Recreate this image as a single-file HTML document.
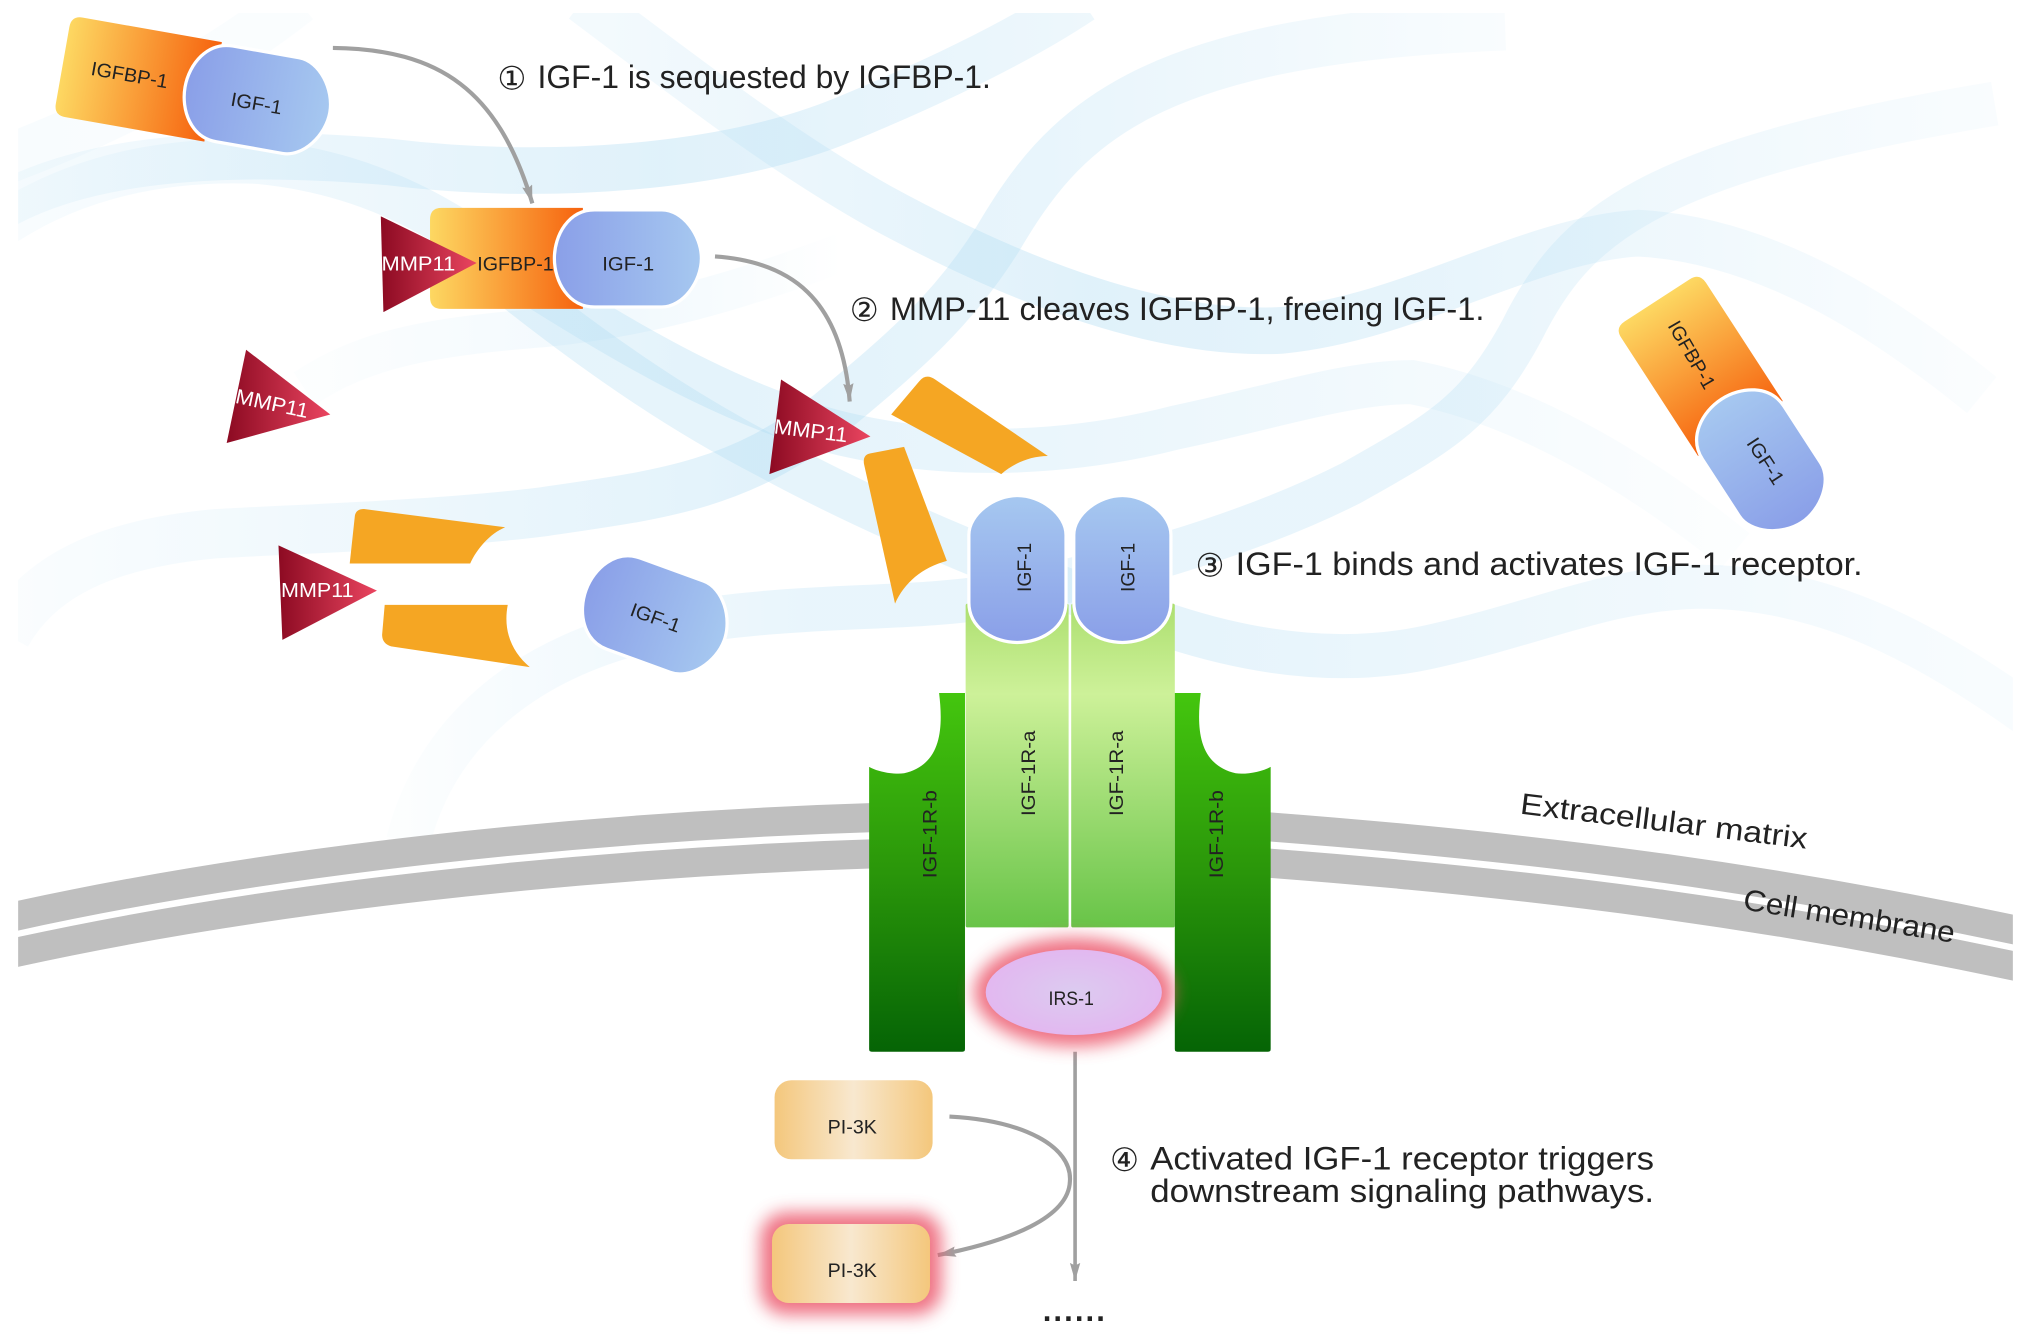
<!DOCTYPE html>
<html><head><meta charset="utf-8"><style>
html,body{margin:0;padding:0;background:#fff}
svg{display:block}
text{font-family:"Liberation Sans","DejaVu Sans",sans-serif;fill:#222}
</style></head><body>
<svg width="2031" height="1344" viewBox="0 0 1568 1037.6" xmlns="http://www.w3.org/2000/svg">
<defs>
<linearGradient id="igf"><stop offset="0" stop-color="#8a9fe8"/><stop offset="1" stop-color="#a6c8f0"/></linearGradient>
<linearGradient id="igfr"><stop offset="0" stop-color="#a6c8f0"/><stop offset="1" stop-color="#8a9fe8"/></linearGradient>
<linearGradient id="bp"><stop offset="0" stop-color="#fdd862"/><stop offset="1" stop-color="#f6620e"/></linearGradient>
<linearGradient id="mmp"><stop offset="0" stop-color="#8c0a22"/><stop offset="1" stop-color="#ea4560"/></linearGradient>
<linearGradient id="ra" x1="0" y1="0" x2="0" y2="1"><stop offset="0" stop-color="#addf70"/><stop offset=".28" stop-color="#cdf199"/><stop offset="1" stop-color="#68c448"/></linearGradient>
<linearGradient id="rb" x1="0" y1="0" x2="0" y2="1"><stop offset="0" stop-color="#44c60e"/><stop offset=".5" stop-color="#2a960a"/><stop offset="1" stop-color="#056405"/></linearGradient>
<radialGradient id="irs"><stop offset="0" stop-color="#dccbf0"/><stop offset="1" stop-color="#e2b8f0"/></radialGradient>
<linearGradient id="pi"><stop offset="0" stop-color="#f4c77c"/><stop offset=".5" stop-color="#f8e8cf"/><stop offset="1" stop-color="#f4c77c"/></linearGradient>
<filter id="gl" x="-30%" y="-40%" width="160%" height="180%"><feGaussianBlur stdDeviation="6.500"/></filter>
<clipPath id="bg"><rect x="14" y="10" width="1540" height="1000"/></clipPath>
<path id="cap" d="M-26,-37.500 H26 C42,-37.500 56.500,-18 56.500,0 C56.500,18 42,37.500 26,37.500 H-26 C-46,37.500 -57,18 -57,0 C-57,-18 -46,-37.500 -26,-37.500 Z" fill="url(#igf)" stroke="#fff" stroke-width="2.500"/>
<path id="capr" d="M-26,-37.500 H26 C42,-37.500 56.500,-18 56.500,0 C56.500,18 42,37.500 26,37.500 H-26 C-46,37.500 -57,18 -57,0 C-57,-18 -46,-37.500 -26,-37.500 Z" fill="url(#igfr)" stroke="#fff" stroke-width="2.500"/>
<path id="bpf" d="M-153,-30 Q-153,-39 -144,-39 H-35 V39 H-144 Q-153,39 -153,30 Z" fill="url(#bp)"/>
<marker id="ah" markerWidth="15" markerHeight="9" refX="14" refY="4" orient="auto" markerUnits="userSpaceOnUse"><path d="M0,0 L14,4 L0,8 L2,4 Z" fill="#a0a0a0"/></marker>
<linearGradient id="fR" gradientUnits="userSpaceOnUse" x1="900" y1="0" x2="1540" y2="0"><stop offset="0" stop-color="#a9d9f2" stop-opacity=".3"/><stop offset="1" stop-color="#a9d9f2" stop-opacity=".08"/></linearGradient>
<linearGradient id="fA" gradientUnits="userSpaceOnUse" x1="470" y1="0" x2="1530" y2="0"><stop offset="0" stop-color="#a9d9f2" stop-opacity=".14"/><stop offset=".35" stop-color="#a9d9f2" stop-opacity=".36"/><stop offset=".6" stop-color="#a9d9f2" stop-opacity=".28"/><stop offset="1" stop-color="#a9d9f2" stop-opacity=".05"/></linearGradient>
<linearGradient id="fB" gradientUnits="userSpaceOnUse" x1="14" y1="0" x2="840" y2="0"><stop offset="0" stop-color="#a9d9f2" stop-opacity=".12"/><stop offset=".6" stop-color="#a9d9f2" stop-opacity=".36"/><stop offset="1" stop-color="#a9d9f2" stop-opacity=".2"/></linearGradient>
<linearGradient id="fD" gradientUnits="userSpaceOnUse" x1="14" y1="0" x2="1162" y2="0"><stop offset="0" stop-color="#a9d9f2" stop-opacity=".06"/><stop offset=".5" stop-color="#a9d9f2" stop-opacity=".34"/><stop offset=".7" stop-color="#a9d9f2" stop-opacity=".26"/><stop offset="1" stop-color="#a9d9f2" stop-opacity=".07"/></linearGradient>
<linearGradient id="fE" gradientUnits="userSpaceOnUse" x1="315" y1="0" x2="1540" y2="0"><stop offset="0" stop-color="#a9d9f2" stop-opacity=".04"/><stop offset=".25" stop-color="#a9d9f2" stop-opacity=".26"/><stop offset=".65" stop-color="#a9d9f2" stop-opacity=".26"/><stop offset="1" stop-color="#a9d9f2" stop-opacity=".07"/></linearGradient>
<linearGradient id="fG" gradientUnits="userSpaceOnUse" x1="14" y1="0" x2="1340" y2="0"><stop offset="0" stop-color="#a9d9f2" stop-opacity=".08"/><stop offset=".4" stop-color="#a9d9f2" stop-opacity=".32"/><stop offset=".7" stop-color="#a9d9f2" stop-opacity=".2"/><stop offset="1" stop-color="#a9d9f2" stop-opacity=".03"/></linearGradient>
<linearGradient id="fH" gradientUnits="userSpaceOnUse" x1="400" y1="0" x2="905" y2="0"><stop offset="0" stop-color="#a9d9f2" stop-opacity=".3"/><stop offset="1" stop-color="#a9d9f2" stop-opacity=".28"/></linearGradient>
<linearGradient id="fM" gradientUnits="userSpaceOnUse" x1="235" y1="0" x2="650" y2="0"><stop offset="0" stop-color="#a9d9f2" stop-opacity=".03"/><stop offset=".6" stop-color="#a9d9f2" stop-opacity=".16"/><stop offset="1" stop-color="#a9d9f2" stop-opacity="0"/></linearGradient>
<linearGradient id="fT" gradientUnits="userSpaceOnUse" x1="14" y1="0" x2="480" y2="0"><stop offset="0" stop-color="#a9d9f2" stop-opacity=".08"/><stop offset="1" stop-color="#a9d9f2" stop-opacity=".02"/></linearGradient>
</defs>

<g clip-path="url(#bg)" fill="none">
<path stroke="url(#fT)" stroke-width="38" d="M0,125 C80,95 160,55 230,0"/>
<path stroke="url(#fA)" stroke-width="36" d="M450,0 C530,60 600,115 680,160 C790,220 900,260 990,255 C1090,245 1180,185 1265,180 C1360,185 1450,240 1530,305"/>
<path stroke="url(#fB)" stroke-width="36" d="M0,160 C70,120 180,115 300,125 C420,140 560,130 650,93 C730,60 790,30 835,0"/>
<path stroke="url(#fD)" stroke-width="38" d="M5,490 C30,445 80,420 167,412 C240,408 340,405 420,395 C510,382 570,375 640,320 C700,270 735,240 770,185 C820,100 880,30 1162,20"/>
<path stroke="url(#fE)" stroke-width="34" d="M315,650 C335,570 400,505 520,482 C620,465 700,472 770,460 C850,445 960,415 1043,373 C1110,335 1140,320 1175,255 C1215,175 1270,125 1540,80"/>
<path stroke="url(#fG)" stroke-width="34" d="M0,175 C60,135 130,122 200,125 C300,135 360,180 420,225 C500,275 580,320 660,337 C740,355 830,350 908,330 C980,315 1040,295 1090,295 C1170,310 1260,360 1340,425"/>
<path stroke="url(#fH)" stroke-width="34" d="M400,225 C470,280 530,320 592,352 C680,400 800,450 905,484"/>
<path stroke="url(#fR)" stroke-width="34" d="M905,484 C970,505 1040,515 1110,498 C1190,480 1240,455 1310,453 C1400,452 1480,490 1570,555"/>
<path stroke="url(#fM)" stroke-width="30" d="M235,300 C280,270 330,260 420,253 C500,245 570,225 650,195"/>
</g>

<!-- membrane -->
<g clip-path="url(#bg)" fill="none" stroke="#bfbfbf" stroke-width="22.500">
<path d="M0,710 C200,665 450,638 680,631"/>
<path d="M0,738 C200,693 450,666 680,659"/>
<path d="M975,638 C1200,655 1380,680 1570,721"/>
<path d="M975,666 C1200,683 1380,708 1570,749"/>
</g>

<!-- arrows -->
<g fill="none" stroke="#a0a0a0" stroke-width="3.200">
<path d="M257,37 C340,38 385,70 411,157" marker-end="url(#ah)"/>
<path d="M552,198 C610,202 650,230 656,310" marker-end="url(#ah)"/>
<path d="M830,812 V989" stroke-width="2.800" marker-end="url(#ah)"/>
<path d="M733,862 C790,865 828,885 826,912 C825,940 780,958 724,969" marker-end="url(#ah)"/>
</g>

<!-- complex 1 -->
<g transform="translate(199,77) rotate(10)"><use href="#bpf"/><use href="#cap"/></g>
<text transform="translate(100,58) rotate(10)" font-size="15" text-anchor="middle" dy="5" textLength="60" lengthAdjust="spacingAndGlyphs">IGFBP-1</text>
<text transform="translate(198,80) rotate(10)" font-size="15" text-anchor="middle" dy="5" textLength="40" lengthAdjust="spacingAndGlyphs">IGF-1</text>

<!-- complex 2 -->
<g transform="translate(485,199.500)"><use href="#bpf"/><use href="#cap"/></g>
<text x="398" y="209" font-size="15" text-anchor="middle" textLength="59" lengthAdjust="spacingAndGlyphs">IGFBP-1</text>
<text x="485" y="209" font-size="15" text-anchor="middle" textLength="40" lengthAdjust="spacingAndGlyphs">IGF-1</text>

<!-- complex 3 -->
<g transform="translate(1360,356) rotate(57)"><use href="#bpf" x="5"/><use href="#capr"/></g>
<text transform="translate(1306,274) rotate(60)" font-size="15" text-anchor="middle" dy="5" textLength="58" lengthAdjust="spacingAndGlyphs">IGFBP-1</text>
<text transform="translate(1363,356) rotate(57)" font-size="15" text-anchor="middle" dy="5" textLength="40" lengthAdjust="spacingAndGlyphs">IGF-1</text>

<!-- MMP11 triangles -->
<polygon points="294,167 296,241 368,203" fill="url(#mmp)"/>
<text x="323" y="209" font-size="16" text-anchor="middle" style="fill:#fff" textLength="57" lengthAdjust="spacingAndGlyphs">MMP11</text>
<polygon points="190,270 175,342 255,320" fill="url(#mmp)"/>
<text transform="translate(210,312) rotate(12)" font-size="16" text-anchor="middle" dy="5" style="fill:#fff" textLength="57" lengthAdjust="spacingAndGlyphs">MMP11</text>
<polygon points="603,293 594,366 672,337" fill="url(#mmp)"/>
<text transform="translate(626,333) rotate(7)" font-size="16" text-anchor="middle" dy="5" style="fill:#fff" textLength="57" lengthAdjust="spacingAndGlyphs">MMP11</text>
<polygon points="215,421 218,494 291,456" fill="url(#mmp)"/>
<text x="245" y="461" font-size="16" text-anchor="middle" style="fill:#fff" textLength="56" lengthAdjust="spacingAndGlyphs">MMP11</text>

<!-- fragments -->
<g fill="#f5a623">
<path d="M710,294 Q715,288 722,293 L809,352 C795,352 782,358 773,366 L688,320 Z"/>
<path d="M667,358 Q666,351 672,350 L698,345 L731,433 C712,438 698,450 691,466 Z"/>
<path d="M274,398 Q275,393 281,393 L390,407 C378,412 368,424 363,435 L270,435 Z"/>
<path d="M297,467 L392,467 C388,488 396,504 409,515 L302,499 Q295,497 295,490 Z"/>
</g>

<!-- free IGF-1 -->
<g transform="translate(506,475) rotate(20)"><use href="#cap"/></g>
<text transform="translate(506,477) rotate(20)" font-size="15" text-anchor="middle" dy="5" textLength="40" lengthAdjust="spacingAndGlyphs">IGF-1</text>

<!-- receptor -->
<rect x="745.500" y="466" width="79.500" height="250" rx="1.500" fill="url(#ra)"/>
<rect x="827" y="466" width="80" height="250" rx="1.500" fill="url(#ra)"/>
<path d="M725,535 C728,560 728,590 698,597 C690,598 678,596 671,592 V810 Q671,812 673,812 H743 Q745,812 745,810 V535 Z" fill="url(#rb)"/>
<path d="M927,535 C924,560 924,590 954,597 C962,598 974,596 981,592 V810 Q981,812 979,812 H909 Q907,812 907,810 V535 Z" fill="url(#rb)"/>

<g transform="translate(785.500,439) rotate(-90)"><use href="#cap"/></g>
<g transform="translate(866.500,439) rotate(-90)"><use href="#cap"/></g>
<text transform="translate(791,438) rotate(-90)" font-size="15" text-anchor="middle" dy="5" textLength="38" lengthAdjust="spacingAndGlyphs">IGF-1</text>
<text transform="translate(871,438) rotate(-90)" font-size="15" text-anchor="middle" dy="5" textLength="38" lengthAdjust="spacingAndGlyphs">IGF-1</text>

<text transform="translate(794,597) rotate(-90)" font-size="15" text-anchor="middle" dy="5" textLength="66" lengthAdjust="spacingAndGlyphs">IGF-1R-a</text>
<text transform="translate(862,597) rotate(-90)" font-size="15" text-anchor="middle" dy="5" textLength="66" lengthAdjust="spacingAndGlyphs">IGF-1R-a</text>
<text transform="translate(718,644) rotate(-90)" font-size="15" text-anchor="middle" dy="5" textLength="68" lengthAdjust="spacingAndGlyphs">IGF-1R-b</text>
<text transform="translate(939,644) rotate(-90)" font-size="15" text-anchor="middle" dy="5" textLength="68" lengthAdjust="spacingAndGlyphs">IGF-1R-b</text>

<!-- IRS-1 -->
<ellipse cx="829" cy="766" rx="77" ry="42" fill="#ec5a6e" filter="url(#gl)" opacity=".85"/>
<ellipse cx="829" cy="766" rx="68" ry="33" fill="url(#irs)"/>
<text x="827" y="776" font-size="15" text-anchor="middle" textLength="35" lengthAdjust="spacingAndGlyphs">IRS-1</text>

<!-- PI-3K -->
<rect x="598" y="834" width="122" height="61" rx="13" fill="url(#pi)"/>
<text x="658" y="875" font-size="15" text-anchor="middle" textLength="38" lengthAdjust="spacingAndGlyphs">PI-3K</text>
<rect x="587" y="936" width="140" height="79" rx="20" fill="#ec5a6e" filter="url(#gl)" opacity=".85"/>
<rect x="596" y="945" width="122" height="61" rx="13" fill="url(#pi)"/>
<text x="658" y="986" font-size="15" text-anchor="middle" textLength="38" lengthAdjust="spacingAndGlyphs">PI-3K</text>

<!-- step labels -->
<text x="384" y="69" font-size="25">①</text>
<text x="415" y="68" font-size="25" textLength="350" lengthAdjust="spacingAndGlyphs">IGF-1 is sequested by IGFBP-1.</text>
<text x="656" y="248" font-size="25">②</text>
<text x="687" y="247" font-size="25" textLength="459" lengthAdjust="spacingAndGlyphs">MMP-11 cleaves IGFBP-1, freeing IGF-1.</text>
<text x="923" y="445" font-size="25">③</text>
<text x="954" y="444" font-size="25" textLength="484" lengthAdjust="spacingAndGlyphs">IGF-1 binds and activates IGF-1 receptor.</text>
<text x="857" y="904" font-size="25">④</text>
<text x="888" y="903" font-size="25" textLength="389" lengthAdjust="spacingAndGlyphs">Activated IGF-1 receptor triggers</text>
<text x="888" y="928" font-size="25" textLength="389" lengthAdjust="spacingAndGlyphs">downstream signaling pathways.</text>
<text x="805" y="1020" font-size="24" font-weight="bold" textLength="48">......</text>

<text transform="translate(1173,628) rotate(7)" font-size="23" textLength="223" lengthAdjust="spacingAndGlyphs">Extracellular matrix</text>
<text transform="translate(1345,702) rotate(9)" font-size="23" textLength="165" lengthAdjust="spacingAndGlyphs">Cell membrane</text>
</svg>
</body></html>
